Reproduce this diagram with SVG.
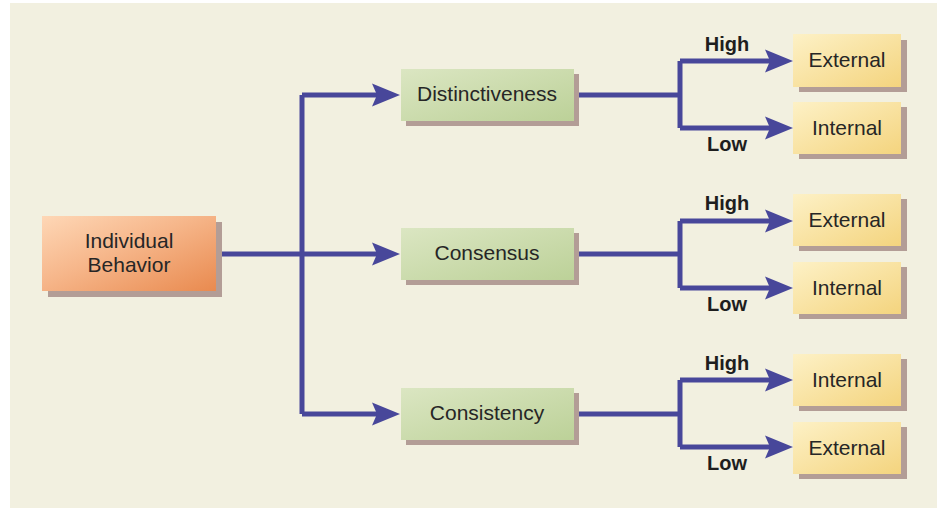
<svg xmlns="http://www.w3.org/2000/svg" width="937" height="508" viewBox="0 0 937 508">
  <style>
    .shadow { fill: #b39d96; }
    .label { font-family: "Liberation Sans", Arial, sans-serif; font-size: 21px; fill: #262626; text-anchor: middle; }
    .branch { font-family: "Liberation Sans", Arial, sans-serif; font-size: 20px; font-weight: bold; fill: #1e1e1e; text-anchor: middle; }
    .wire { fill: none; stroke: #48479a; stroke-width: 5; stroke-linejoin: miter; }
    .head { fill: #48479a; }
  </style>
  <defs>
    <linearGradient id="gOrange" x1="0" y1="0" x2="1" y2="1">
      <stop offset="0" stop-color="#fed7b6"/>
      <stop offset="0.45" stop-color="#f6b68a"/>
      <stop offset="1" stop-color="#e98a4f"/>
    </linearGradient>
    <linearGradient id="gGreen" x1="0" y1="0" x2="1" y2="1">
      <stop offset="0" stop-color="#dbe6c2"/>
      <stop offset="1" stop-color="#bcd198"/>
    </linearGradient>
    <linearGradient id="gYellow" x1="0" y1="0" x2="1" y2="1">
      <stop offset="0" stop-color="#fdf1c6"/>
      <stop offset="1" stop-color="#f4d47e"/>
    </linearGradient>
    <path id="arrow" d="M0,0 L-28,-11.5 L-23,0 L-28,11.5 Z"/>
  </defs>

  <!-- backdrop -->
  <rect x="0" y="0" width="937" height="508" fill="#ffffff"/>
  <rect x="10" y="3" width="927" height="505" fill="#f2f0e0"/>

  <!-- connectors -->
  <g id="connectors">
    <path class="wire" d="M216,254 H378 M302,95 V414 M302,95 H378 M302,414 H378"/>
    <use href="#arrow" class="head" x="400" y="95"/>
    <use href="#arrow" class="head" x="400" y="254"/>
    <use href="#arrow" class="head" x="400" y="414"/>

    <path class="wire" d="M574,95 H680 M680,61 V128 M680,61 H770 M680,128 H770"/>
    <use href="#arrow" class="head" x="793" y="61"/>
    <use href="#arrow" class="head" x="793" y="128"/>

    <path class="wire" d="M574,254 H680 M680,221 V288 M680,221 H770 M680,288 H770"/>
    <use href="#arrow" class="head" x="793" y="221"/>
    <use href="#arrow" class="head" x="793" y="288"/>

    <path class="wire" d="M574,414 H680 M680,380 V447 M680,380 H770 M680,447 H770"/>
    <use href="#arrow" class="head" x="793" y="380"/>
    <use href="#arrow" class="head" x="793" y="447"/>

    <text class="branch" x="727" y="51">High</text>
    <text class="branch" x="727" y="151">Low</text>
    <text class="branch" x="727" y="210">High</text>
    <text class="branch" x="727" y="311">Low</text>
    <text class="branch" x="727" y="370">High</text>
    <text class="branch" x="727" y="470">Low</text>
  </g>

  <!-- source -->
  <g id="individual-behavior">
    <rect class="shadow" x="48" y="222" width="174" height="75"/>
    <rect x="42" y="216" width="174" height="75" fill="url(#gOrange)"/>
    <text class="label" x="129" y="248">Individual</text>
    <text class="label" x="129" y="272">Behavior</text>
  </g>

  <!-- criteria -->
  <g id="distinctiveness">
    <rect class="shadow" x="406" y="74" width="173" height="52"/>
    <rect x="401" y="69" width="173" height="52" fill="url(#gGreen)"/>
    <text class="label" x="487" y="101">Distinctiveness</text>
  </g>
  <g id="consensus">
    <rect class="shadow" x="406" y="233" width="173" height="52"/>
    <rect x="401" y="228" width="173" height="52" fill="url(#gGreen)"/>
    <text class="label" x="487" y="260">Consensus</text>
  </g>
  <g id="consistency">
    <rect class="shadow" x="406" y="393" width="173" height="52"/>
    <rect x="401" y="388" width="173" height="52" fill="url(#gGreen)"/>
    <text class="label" x="487" y="420">Consistency</text>
  </g>

  <!-- outcomes -->
  <g id="distinctiveness-high">
    <rect class="shadow" x="799" y="40" width="108" height="52"/>
    <rect x="793" y="34" width="108" height="53" fill="url(#gYellow)"/>
    <text class="label" x="847" y="67">External</text>
  </g>
  <g id="distinctiveness-low">
    <rect class="shadow" x="799" y="107" width="108" height="52"/>
    <rect x="793" y="102" width="108" height="52" fill="url(#gYellow)"/>
    <text class="label" x="847" y="135">Internal</text>
  </g>
  <g id="consensus-high">
    <rect class="shadow" x="799" y="199" width="108" height="52"/>
    <rect x="793" y="194" width="108" height="52" fill="url(#gYellow)"/>
    <text class="label" x="847" y="227">External</text>
  </g>
  <g id="consensus-low">
    <rect class="shadow" x="799" y="267" width="108" height="52"/>
    <rect x="793" y="262" width="108" height="52" fill="url(#gYellow)"/>
    <text class="label" x="847" y="295">Internal</text>
  </g>
  <g id="consistency-high">
    <rect class="shadow" x="799" y="359" width="108" height="52"/>
    <rect x="793" y="354" width="108" height="52" fill="url(#gYellow)"/>
    <text class="label" x="847" y="387">Internal</text>
  </g>
  <g id="consistency-low">
    <rect class="shadow" x="799" y="427" width="108" height="52"/>
    <rect x="793" y="422" width="108" height="52" fill="url(#gYellow)"/>
    <text class="label" x="847" y="455">External</text>
  </g>
</svg>
